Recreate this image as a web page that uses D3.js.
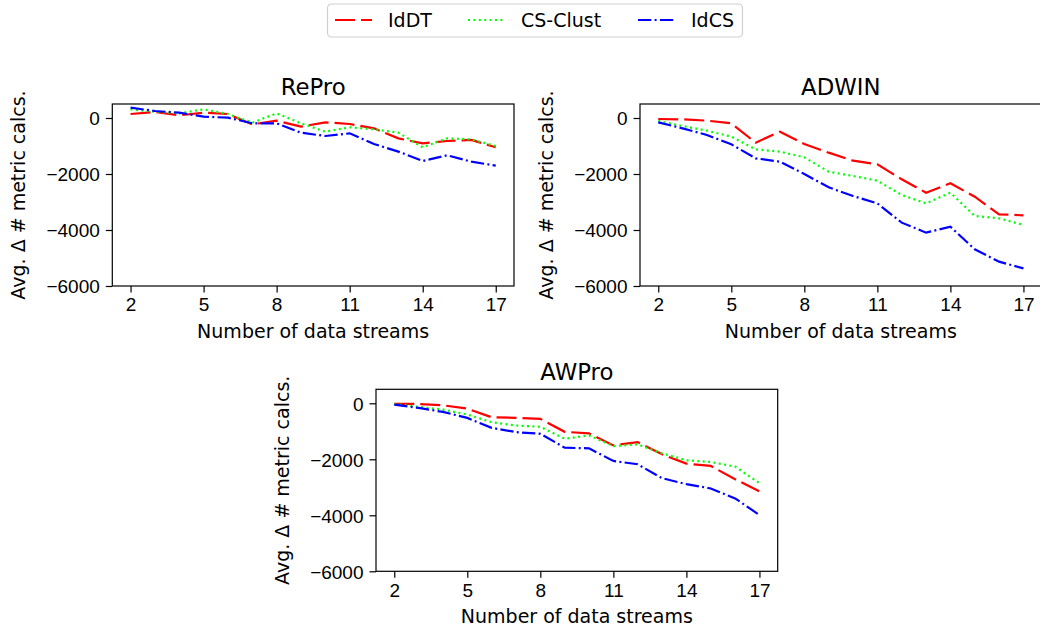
<!DOCTYPE html>
<html>
<head>
<meta charset="utf-8">
<script src="https://cdn.jsdelivr.net/npm/d3@7"></script>
<style>
  body { margin: 0; background: #fff; }
  svg { display: block; font-family: "DejaVu Sans", sans-serif; }
  .tick text { font-size: 19px; fill: #000; }
  .tick line { stroke: #000; stroke-width: 1.2; }
</style>
</head>
<body>
<div id="chart"></div>
<script>
'use strict';

// x values: number of data streams
const streams = [2, 3, 4, 5, 6, 7, 8, 9, 10, 11, 12, 13, 14, 15, 16, 17];
const xTicks = [2, 5, 8, 11, 14, 17];
const yTicks = [0, -2000, -4000, -6000];

const seriesNames = ['IdDT', 'CS-Clust', 'IdCS'];

// RePro
const reproIdDT = [143, 214, 95, 190, 143, -226, -95, -310, -155, -214, -369, -726, -905, -821, -785, -1047];
const reproCSClust = [310, 226, 167, 310, 143, -167, 167, -190, -488, -333, -405, -524, -1047, -726, -762, -1000];
const reproIdCS = [369, 250, 190, 48, 12, -190, -190, -524, -643, -548, -928, -1200, -1535, -1333, -1559, -1702];

// ADWIN
const adwinIdDT = [-36, -48, -95, -190, -881, -488, -928, -1238, -1524, -1655, -2190, -2667, -2333, -2810, -3440, -3476];
const adwinCSClust = [-107, -286, -452, -667, -1119, -1202, -1405, -1917, -2071, -2238, -2750, -3048, -2667, -3500, -3583, -3821];
const adwinIdCS = [-155, -369, -607, -940, -1440, -1560, -2000, -2476, -2786, -3048, -3738, -4095, -3881, -4690, -5131, -5369];

// AWPro
const awproIdDT = [-24, -24, -71, -189, -497, -521, -556, -1018, -1077, -1503, -1385, -1822, -2154, -2237, -2710, -3148];
const awproCSClust = [-20, -130, -225, -402, -675, -793, -840, -1266, -1148, -1527, -1467, -1787, -2036, -2095, -2260, -2852];
const awproIdCS = [-47, -166, -308, -521, -876, -1030, -1089, -1586, -1609, -2059, -2178, -2675, -2888, -3041, -3396, -3988];

// line styles per series
const styles = [
    {color: '#ff0000', dash: '20,6'},
    {color: '#00ff00', dash: '2,3.4'},
    {color: '#0000ff', dash: '13.3,3.3,2,3.3'}
];

const W = 1040, H = 631;
const svg = d3.select('#chart').append('svg')
    .attr('width', W)
    .attr('height', H);

const panelW = 401.7, panelH = 182;
const fmt = d => d < 0 ? '\u2212' + Math.abs(d) : String(d);

function drawPanel(title, left, top, series, idx) {
    const x = d3.scaleLinear().domain([1.25, 17.75]).range([0, panelW]);
    const y = d3.scaleLinear().domain([-6000, 500]).range([panelH, 0]);

    const g = svg.append('g').attr('transform', `translate(${left},${top})`);

    g.append('clipPath').attr('id', 'clip' + idx)
        .append('rect').attr('width', panelW).attr('height', panelH);

    const line = d3.line()
        .x((d, i) => x(streams[i]))
        .y(d => y(d));

    const plot = g.append('g').attr('clip-path', `url(#clip${idx})`);
    series.forEach((s, i) => {
        plot.append('path')
            .datum(s)
            .attr('d', line)
            .attr('fill', 'none')
            .attr('stroke', styles[i].color)
            .attr('stroke-width', 2.2)
            .attr('stroke-dasharray', styles[i].dash);
    });

    // axes
    const ax = g.append('g')
        .attr('transform', `translate(0,${panelH})`)
        .call(d3.axisBottom(x).tickValues(xTicks).tickSize(6.5).tickPadding(6).tickSizeOuter(0));
    const ay = g.append('g')
        .call(d3.axisLeft(y).tickValues(yTicks).tickSize(6.5).tickPadding(6).tickSizeOuter(0).tickFormat(fmt));
    ax.select('.domain').remove();
    ay.select('.domain').remove();
    ax.selectAll('text').attr('font-family', null).attr('font-size', null).attr('dy', '0.68em');
    ay.selectAll('text').attr('font-family', null).attr('font-size', null).attr('dy', '0.36em');

    // frame (spines)
    g.append('rect')
        .attr('width', panelW)
        .attr('height', panelH)
        .attr('fill', 'none')
        .attr('stroke', '#000')
        .attr('stroke-width', 1.2);

    // title
    g.append('text')
        .attr('x', panelW / 2)
        .attr('y', -9.5)
        .attr('text-anchor', 'middle')
        .attr('font-size', 22.8)
        .text(title);

    // axis titles
    g.append('text')
        .attr('x', panelW / 2)
        .attr('y', panelH + 52)
        .attr('text-anchor', 'middle')
        .attr('font-size', 19)
        .text('Number of data streams');

    g.append('text')
        .attr('transform', `translate(-87,${panelH / 2}) rotate(-90)`)
        .attr('text-anchor', 'middle')
        .attr('font-size', 19)
        .text('Avg. \u0394 # metric calcs.');
}

drawPanel('RePro', 112.3, 104, [reproIdDT, reproCSClust, reproIdCS], 0);
drawPanel('ADWIN', 640, 104, [adwinIdDT, adwinCSClust, adwinIdCS], 1);
drawPanel('AWPro', 376, 389.3, [awproIdDT, awproCSClust, awproIdCS], 2);

// legend
const legend = svg.append('g');
legend.append('rect')
    .attr('x', 327.5).attr('y', 4)
    .attr('width', 415).attr('height', 33)
    .attr('rx', 4)
    .attr('fill', '#fff')
    .attr('stroke', '#d0d0d0')
    .attr('stroke-width', 1.2);

const legendX = [335, 468, 638];
seriesNames.forEach((name, i) => {
    legend.append('line')
        .attr('x1', legendX[i]).attr('x2', legendX[i] + 37)
        .attr('y1', 20).attr('y2', 20)
        .attr('stroke', styles[i].color)
        .attr('stroke-width', 2.2)
        .attr('stroke-dasharray', styles[i].dash);
    legend.append('text')
        .attr('x', legendX[i] + 53)
        .attr('y', 27)
        .attr('font-size', 19)
        .text(name);
});
</script>
</body>
</html>
